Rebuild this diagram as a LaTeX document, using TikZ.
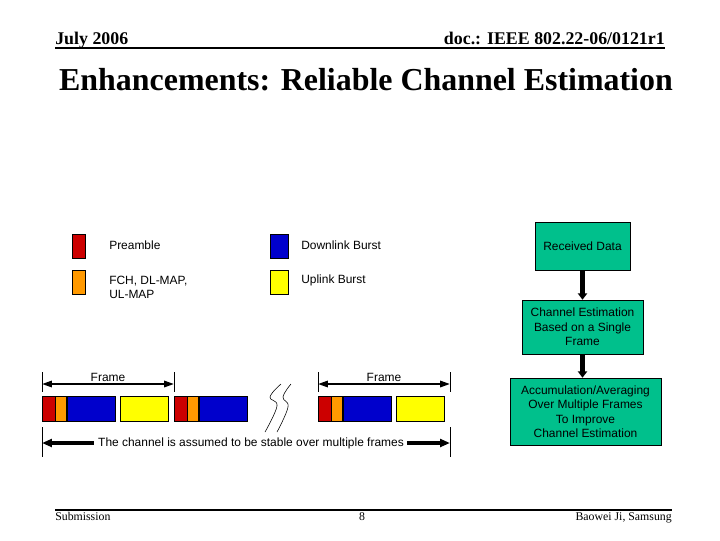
\documentclass[tikz,border=0pt]{standalone}
\usepackage{fontspec}
\setmainfont{Liberation Serif}
\setsansfont{Liberation Sans}
\usetikzlibrary{arrows.meta,positioning}
\definecolor{prered}{RGB}{204,0,0}
\definecolor{maporange}{RGB}{255,153,0}
\definecolor{dlblue}{RGB}{0,0,204}
\definecolor{ulyellow}{RGB}{255,255,0}
\definecolor{flowteal}{RGB}{0,192,140}

\begin{document}
\begin{tikzpicture}[x=0.025cm,y=-0.025cm,
    lbl/.style={font=\fontsize{8.5}{10.3}\sffamily\selectfont,inner sep=0pt},
    keybox/.style={draw,minimum height=0.6cm,inner sep=0pt},
    slot/.style={draw,minimum height=0.625cm,inner sep=0pt},
    flowbox/.style={draw,fill=flowteal,align=center,inner sep=0pt,
        font=\fontsize{8.5}{10.3}\sffamily\selectfont},
    flowarrow/.style={line width=3.3pt,-{Triangle[length=4.5pt,width=6.5pt]}},
    dimarrow/.style={line width=1.4pt,
        {Triangle[length=7pt,width=4.5pt]}-{Triangle[length=7pt,width=4.5pt]}},
    widearrow/.style={line width=2.2pt,-{Triangle[length=7pt,width=5.5pt]}},
    node distance=0pt]
    \useasboundingbox (0,0) rectangle (720,540);

    % Header and title
    \node[anchor=base west,inner sep=0pt,font=\fontsize{12.7}{14}\bfseries] (date) at (55,44.5) {July 2006};
    \node[anchor=base east,inner sep=0pt,font=\fontsize{12.7}{14}\bfseries] (docid) at (665,44.5) {doc.: IEEE 802.22-06/0121r1};
    \draw[line width=1.5pt] (55,48) -- (665,48);
    \node[inner sep=0pt,font=\fontsize{22.7}{26}\bfseries] (title) at (366,80) {Enhancements: Reliable Channel Estimation};

    % Legend
    \node[keybox,fill=prered,minimum width=0.325cm] (kpre) at (78.5,246) {};
    \node[keybox,fill=maporange,minimum width=0.325cm] (kmap) at (78.5,282) {};
    \node[keybox,fill=dlblue,minimum width=0.45cm] (kdl) at (279,246) {};
    \node[keybox,fill=ulyellow,minimum width=0.45cm] (kul) at (279,282) {};
    \node[lbl,anchor=west] (tpre) at (109,245) {Preamble};
    \node[lbl,anchor=west,align=left] (tmap) at (109,287.5) {FCH, DL-MAP,\\UL-MAP};
    \node[lbl,anchor=west] (tdl) at (301,245) {Downlink Burst};
    \node[lbl,anchor=west] (tul) at (301,280) {Uplink Burst};

    % Flow chart
    \node[flowbox,minimum width=2.375cm,minimum height=1.2cm] (rx) at (582.5,246) {Received Data};
    \node[flowbox,minimum width=3.025cm,minimum height=1.35cm] (est) at (582.5,327)
        {Channel Estimation\\Based on a Single\\Frame};
    \node[flowbox,minimum width=3.775cm,minimum height=1.675cm] (acc) at (585.5,411.5)
        {Accumulation/Averaging\\Over Multiple Frames\\To Improve\\Channel Estimation};
    \draw[flowarrow] (rx) -- (est);
    \draw[flowarrow] (est.south) -- (est.south |- acc.north);

    % Frames
    \foreach \k/\x in {1/42,2/174,3/318} {
        \node[slot,fill=prered,minimum width=0.3125cm,anchor=west] (pre\k) at (\x,408.5) {};
        \node[slot,fill=maporange,minimum width=0.275cm,right=of pre\k] (map\k) {};
        \node[slot,fill=dlblue,minimum width=1.2cm,right=of map\k] (dl\k) {};
    }
    \node[slot,fill=ulyellow,minimum width=1.2cm,right=0.13cm of dl1] (ul1) {};
    \node[slot,fill=ulyellow,minimum width=1.2cm,right=0.13cm of dl3] (ul3) {};

    % Frame lengths
    \coordinate (f1a) at (42,384);
    \coordinate (f1b) at (174,384);
    \coordinate (f3a) at (318,384);
    \coordinate (f3b) at (450,384);
    \foreach \x in {42,174,318,450}
        \draw (\x,372) -- (\x,392);
    \draw[dimarrow] (f1a) -- node[lbl,above=1pt] {Frame} (f1b);
    \draw[dimarrow] (f3a) -- node[lbl,above=1pt] {Frame} (f3b);

    % Break marks
    \draw plot[smooth,tension=0.7] coordinates {(281,384) (270,397) (277,406) (265,432)};
    \draw plot[smooth,tension=0.7] coordinates {(291,384) (283,397) (288,407) (277,432)};

    % Stable channel span
    \node[lbl] (stab) at (251,443) {The channel is assumed to be stable over multiple frames};
    \coordinate (b1) at (42,443);
    \coordinate (b2) at (450,443);
    \draw (42,427) -- (42,457);
    \draw (450,427) -- (450,457);
    \draw[widearrow] ([xshift=-3pt]stab.west) -- (b1);
    \draw[widearrow] ([xshift=2pt]stab.east) -- (b2);

    % Footer
    \draw[line width=1.5pt] (55,510) -- (672,510);
    \node[anchor=base west,inner sep=0pt,font=\fontsize{8.4}{10}\selectfont] (sub) at (55,520.5) {Submission};
    \node[anchor=base,inner sep=0pt,font=\fontsize{8.4}{10}\selectfont] (page) at (362,520.5) {8};
    \node[anchor=base east,inner sep=0pt,font=\fontsize{8.4}{10}\selectfont] (auth) at (672,520.5) {Baowei Ji, Samsung};
\end{tikzpicture}
\end{document}
